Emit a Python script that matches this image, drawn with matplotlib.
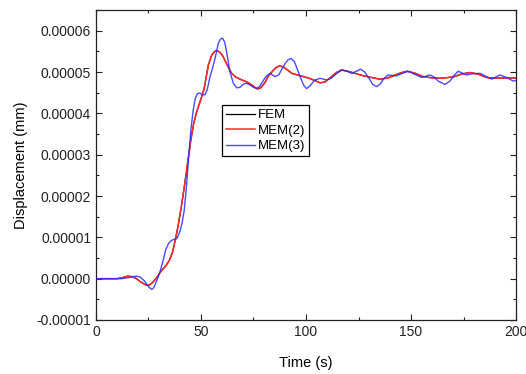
import matplotlib
matplotlib.use("Agg")
import matplotlib.pyplot as plt
from matplotlib.ticker import MultipleLocator, FormatStrFormatter

plt.rcParams['font.family'] = ['Liberation Sans', 'DejaVu Sans']

# MEM(2) (red), values in 1e-5 mm
t_mem2 = [0, 10, 13, 15, 17, 19, 21, 23, 24, 25.5, 27, 29, 30.5, 32, 33.5, 35, 36.5,
          37.6, 39, 40.5, 42, 43.5, 45, 46.5, 48, 50, 51.5, 53.5, 55.1, 56.5, 57.7, 59,
          60.5, 62, 63.5, 64.6, 66.5, 69.4, 72, 74.1, 76, 77, 78.5, 80.5, 82, 83.7, 85.5,
          87.3, 89, 91, 93.2, 96, 98, 101, 104, 106.7, 109, 112, 114.5, 117, 120, 124,
          127.3, 131, 135, 138.5, 141.6, 145, 148, 151.5, 155.9, 160, 163.8, 170, 174,
          178, 182, 186, 190, 195.6, 200]
v_mem2 = [0, 0, 0.03, 0.06, 0.05, 0.01, -0.07, -0.13, -0.16, -0.15, -0.09, 0.03, 0.15,
          0.24, 0.33, 0.45, 0.65, 0.9, 1.25, 1.7, 2.2, 2.75, 3.3, 3.75, 4.05, 4.35, 4.6,
          5.17, 5.41, 5.5, 5.52, 5.48, 5.38, 5.22, 5.07, 4.97, 4.88, 4.81, 4.76, 4.69, 4.62,
          4.59, 4.62, 4.75, 4.9, 5.0, 5.1, 5.15, 5.13, 5.06, 4.97, 4.93, 4.9, 4.86, 4.8,
          4.74, 4.76, 4.88, 4.99, 5.05, 5.02, 4.96, 4.91, 4.87, 4.83, 4.85, 4.91, 4.98,
          5.02, 4.98, 4.89, 4.86, 4.85, 4.88, 4.95, 4.99, 4.95, 4.87, 4.85, 4.86, 4.86]

# MEM(3) (blue)
t_mem3 = [0, 12, 15, 17.5, 19.4, 21, 23, 24.5, 25.5, 26.5, 27.5, 28.5, 29.5, 30.5, 32,
          33.2, 34.5, 35.8, 37, 38.5, 40, 41, 42, 43.2, 44.2, 45.2, 46.2, 47.2, 48.3, 49.5,
          50.7, 51.9, 53, 54.3, 55.5, 56.7, 58.2, 59.3, 60.3, 61.3, 62.2, 63.8, 65.4, 67,
          68.5, 70, 71.4, 73, 75, 76.5, 78, 79.5, 81, 82.9, 85.2, 87, 88.5, 90, 91.5, 92.9,
          94.5, 96, 97.5, 99, 100.3, 102, 104, 106.7, 109.8, 112, 114.5, 117, 119.5,
          121.7, 124, 126, 128, 130, 131.8, 133.7, 135.5, 137, 139, 143, 146, 148.7, 152,
          155, 159, 161, 163, 166.2, 168.5, 170.5, 172.5, 176.5, 179.5, 182.9, 185.5,
          188.4, 192.4, 195.5, 198.7, 200]
v_mem3 = [0, 0, 0.02, 0.05, 0.06, 0.04, -0.05, -0.16, -0.22, -0.26, -0.22, -0.1, 0.02,
          0.17, 0.45, 0.7, 0.85, 0.92, 0.95, 0.97, 1.15, 1.35, 1.65, 2.3, 3.0, 3.6, 4.05,
          4.35, 4.48, 4.49, 4.45, 4.45, 4.58, 4.89, 5.1, 5.33, 5.69, 5.8, 5.82, 5.72, 5.49,
          5.0, 4.73, 4.62, 4.63, 4.7, 4.73, 4.7, 4.63, 4.6, 4.66, 4.78, 4.9, 4.97, 4.89,
          4.93, 5.07, 5.2, 5.3, 5.33, 5.25, 5.05, 4.85, 4.67, 4.6, 4.67, 4.8, 4.85, 4.81,
          4.85, 4.96, 5.05, 5.02, 4.97, 5.02, 5.07, 5.0, 4.85, 4.7, 4.65, 4.72, 4.84, 4.93,
          4.91, 4.97, 5.02, 4.94, 4.87, 4.93, 4.88, 4.78, 4.7, 4.78, 4.92, 5.02, 4.93, 4.96,
          4.97, 4.9, 4.83, 4.93, 4.87, 4.78, 4.8]

# FEM lies under MEM(2)
t_fem = t_mem2
v_fem = v_mem2

scale = 1e-5

fig = plt.figure(figsize=(5.26, 3.74), dpi=100)
ax = fig.add_axes([0.1825, 0.1444, 0.7985, 0.8286])

ax.plot(t_fem, [v * scale for v in v_fem], color='black', lw=0.9, label='FEM')
ax.plot(t_mem2, [v * scale for v in v_mem2], color='#ff2a2a', lw=1.1, label='MEM(2)')
ax.plot(t_mem3, [v * scale for v in v_mem3], color='#2a2aff', lw=1.0, alpha=0.85, label='MEM(3)')

ax.set_xlim(0, 200)
ax.set_ylim(-1e-5, 6.5e-5)
ax.xaxis.set_major_locator(MultipleLocator(50))
ax.xaxis.set_minor_locator(MultipleLocator(25))
ax.yaxis.set_major_locator(MultipleLocator(1e-5))
ax.yaxis.set_minor_locator(MultipleLocator(0.5e-5))
ax.yaxis.set_major_formatter(FormatStrFormatter('%.5f'))
ax.tick_params(which='both', direction='in', top=True, right=True, labelsize=10,
               colors='#222222')
ax.tick_params(which='major', length=4, width=0.8)
ax.tick_params(which='minor', length=2.5, width=0.8)
for s in ax.spines.values():
    s.set_linewidth(0.9)
    s.set_color('#222222')

ax.set_xlabel('Time (s)', fontsize=10.5, labelpad=12)
ax.set_ylabel('Displacement (mm)', fontsize=10.5, labelpad=6)

leg = ax.legend(loc='upper left', bbox_to_anchor=(0.30, 0.694), borderaxespad=0,
                fontsize=9.5, fancybox=False, framealpha=1, edgecolor='black',
                handlelength=2.2, handletextpad=0.2, labelspacing=0.25,
                borderpad=0.3)
leg.get_frame().set_linewidth(0.9)

fig.savefig('out.png', dpi=100)
